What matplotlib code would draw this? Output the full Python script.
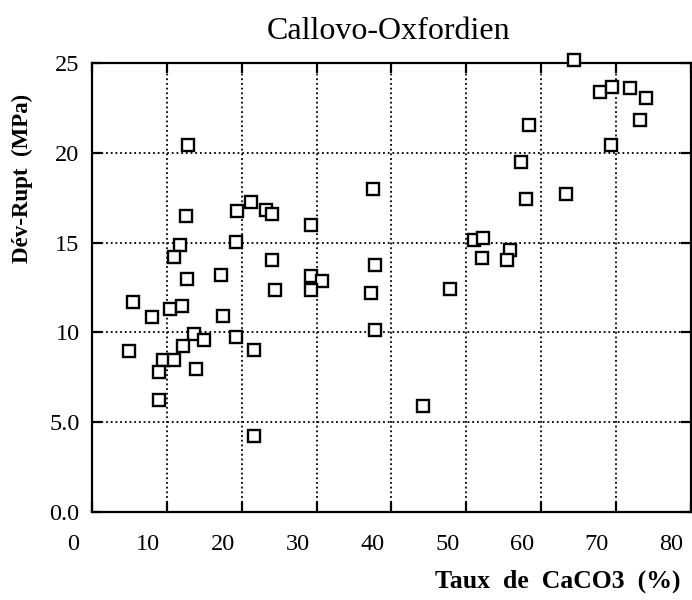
import matplotlib
matplotlib.use("Agg")
import matplotlib.pyplot as plt
import matplotlib.transforms as mtransforms
import numpy as np

# Data (CaCO3 %, deviator at rupture MPa)
caco3 = [12.8, 12.5, 19.4, 21.3, 23.3, 24.0, 29.3, 11.7, 19.3, 11.0,
         24.1, 12.7, 17.2, 29.2, 30.7, 29.2, 24.5, 5.5, 8.0, 10.4,
         12.0, 17.5, 13.6, 15.0, 12.2, 19.2, 21.7, 5.0, 9.5, 11.0,
         9.0, 13.9, 8.9, 21.7,
         64.4, 67.9, 69.5, 71.9, 74.1, 73.3, 58.4, 69.4, 57.3, 37.5,
         58.0, 63.3, 51.1, 52.2, 55.9, 52.1, 55.5, 37.8, 37.3, 47.9,
         37.8, 44.2]
dev_rupt = [20.45, 16.46, 16.73, 17.25, 16.82, 16.60, 15.99, 14.87, 15.03, 14.17,
            14.00, 12.96, 13.20, 13.15, 12.87, 12.37, 12.33, 11.68, 10.83, 11.31,
            11.44, 10.88, 9.90, 9.58, 9.25, 9.71, 9.03, 8.93, 8.43, 8.47,
            7.78, 7.97, 6.20, 4.20,
            25.14, 23.38, 23.69, 23.58, 23.03, 21.82, 21.54, 20.41, 19.46, 17.96,
            17.40, 17.68, 15.14, 15.25, 14.58, 14.11, 14.02, 13.72, 12.21, 12.42,
            10.12, 5.87]

x_ticks = [0, 10, 20, 30, 40, 50, 60, 70, 80]
x_labels = ["0", "10", "20", "30", "40", "50", "60", "70", "80"]
y_ticks = [0, 5, 10, 15, 20, 25]
y_labels = ["0.0", "5.0", "10", "15", "20", "25"]

title = "Callovo-Oxfordien"
xlabel = "Taux  de  CaCO3  (%)"
ylabel = "Dév-Rupt  (MPa)"

plt.rcParams['font.family'] = ['Liberation Serif', 'DejaVu Serif']

fig = plt.figure(figsize=(6.92, 6.0), dpi=100)
ax = fig.add_axes([0.133, 0.147, 0.865, 0.748])

ax.plot(caco3, dev_rupt, linestyle='none', marker='s', markersize=8,
        markerfacecolor='white', markeredgecolor='black', markeredgewidth=1.7,
        zorder=3, clip_on=False)

ax.set_xlim(0, 80)
ax.set_ylim(0, 25)
ax.set_xticks(x_ticks, x_labels)
ax.set_yticks(y_ticks, y_labels)

ax.grid(True, color='black', linestyle=(0, (1, 1.6)), linewidth=1.3)
ax.set_axisbelow(True)

for s in ax.spines.values():
    s.set_linewidth(1.6)
    s.set_color('black')

ax.tick_params(axis='both', direction='in', length=7, width=1.6,
               top=True, right=True, labelsize=17.5, colors='black')
ax.tick_params(axis='x', pad=16)
ax.tick_params(axis='y', pad=9)

# shift x tick labels to the left as in the reference
offset = mtransforms.ScaledTranslation(-0.19, 0, fig.dpi_scale_trans)
for tk in ax.xaxis.get_major_ticks():
    tk.label1.set_transform(tk.label1.get_transform() + offset)

fig.text(0.562, 0.947, title, ha='center', va='center', fontsize=23)
fig.text(0.983, 0.012, xlabel, ha='right', va='bottom', fontsize=18.5,
         fontweight='bold')
fig.text(0.032, 0.703, ylabel, ha='center', va='center', rotation=90,
         fontsize=16.5, fontweight='bold')

fig.savefig("out.png", dpi=100)
